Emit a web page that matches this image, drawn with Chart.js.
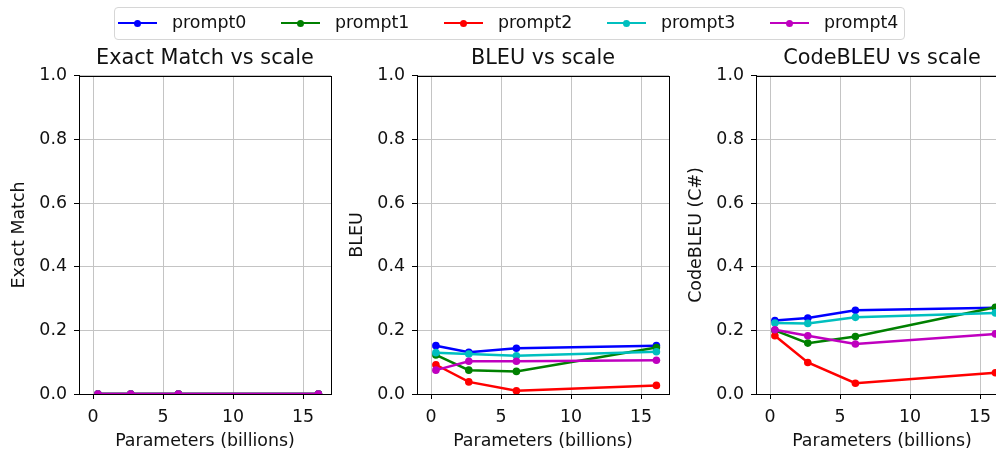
<!DOCTYPE html>
<html>
<head>
<meta charset="utf-8">
<script src="https://cdn.jsdelivr.net/npm/chart.js@4"></script>
<style>
  html, body { margin: 0; padding: 0; background: #fff; }
  #fig { position: relative; width: 996px; height: 450px; overflow: hidden; font-family: "DejaVu Sans", sans-serif; }
  #fig canvas { position: absolute; top: 0; }
  #legend { position: absolute; left: 114px; top: 7px; width: 789px; height: 31px; border: 1px solid #d6d6d6; border-radius: 4px; background: rgba(255,255,255,0.8); z-index: 5; }
  .item { position: absolute; top: 0; height: 31px; }
  .sample { position: absolute; top: 14px; width: 39px; height: 2px; }
  .sample i { position: absolute; left: 16px; top: -2.5px; width: 7px; height: 7px; border-radius: 50%; }
  .item span { position: absolute; left: 54px; top: 4px; font-size: 17.4px; line-height: 21px; color: #111; white-space: nowrap; }
</style>
</head>
<body>
<div id="fig">
  <div id="legend"></div>
  <canvas id="c0" width="408" height="452" style="left:1px"></canvas>
  <canvas id="c1" width="408" height="452" style="left:339px"></canvas>
  <canvas id="c2" width="408" height="452" style="left:678px"></canvas>
</div>
<script>
// ===== DATA =====
const params = [0.35, 2.7, 6.1, 16.1];   // model size, billions
const promptNames = ['prompt0', 'prompt1', 'prompt2', 'prompt3', 'prompt4'];
const promptColors = ['#0000ff', '#008000', '#ff0000', '#00bfbf', '#bf00bf'];

const exactMatch = [
  [0, 0, 0, 0],
  [0, 0, 0, 0],
  [0, 0, 0, 0],
  [0, 0, 0, 0],
  [0, 0, 0, 0]
];
const bleu = [
  [0.152, 0.131, 0.144, 0.152],
  [0.123, 0.075, 0.071, 0.146],
  [0.092, 0.038, 0.010, 0.027],
  [0.130, 0.126, 0.120, 0.133],
  [0.075, 0.103, 0.103, 0.106]
];
const codeBleu = [
  [0.231, 0.239, 0.263, 0.271],
  [0.200, 0.160, 0.181, 0.273],
  [0.183, 0.099, 0.034, 0.067],
  [0.223, 0.222, 0.241, 0.255],
  [0.202, 0.183, 0.157, 0.189]
];
const xTicks = [0, 5, 10, 15];
const yTicks = [0, 0.2, 0.4, 0.6, 0.8, 1.0];

const panels = [
  { id: 'c0', title: 'Exact Match vs scale', ylabel: 'Exact Match', data: exactMatch },
  { id: 'c1', title: 'BLEU vs scale', ylabel: 'BLEU', data: bleu },
  { id: 'c2', title: 'CodeBLEU vs scale', ylabel: 'CodeBLEU (C#)', data: codeBleu }
];

const FONT = "'DejaVu Sans', sans-serif";
const TXT = 17.4;

// ===== LEGEND =====
const legend = document.getElementById('legend');
promptNames.forEach((name, i) => {
  const it = document.createElement('div');
  it.className = 'item';
  it.style.left = (3 + i * 163) + 'px';
  it.innerHTML = `<div class="sample" style="background:${promptColors[i]}"><i style="background:${promptColors[i]}"></i></div><span>${name}</span>`;
  legend.appendChild(it);
});

// full box spines like matplotlib
const boxPlugin = {
  id: 'box',
  afterDatasetsDraw(chart) {
    const a = chart.chartArea, ctx = chart.ctx;
    ctx.save();
    ctx.strokeStyle = '#000';
    ctx.lineWidth = 1;
    ctx.strokeRect(Math.round(a.left) + 0.5, Math.round(a.top) + 0.5,
      Math.round(a.right) - Math.round(a.left), Math.round(a.bottom) - Math.round(a.top));
    ctx.restore();
  }
};

// ===== CHARTS =====
panels.forEach(p => {
  const datasets = promptNames.map((name, i) => ({
    label: name,
    data: params.map((x, k) => ({ x: x, y: p.data[i][k] })),
    borderColor: promptColors[i],
    backgroundColor: promptColors[i],
    borderWidth: 2.5,
    pointRadius: 3.8,
    pointBorderWidth: 0,
    pointHoverRadius: 3.8,
    tension: 0,
    clip: 0,
    order: promptNames.length - i
  }));

  new Chart(document.getElementById(p.id), {
    type: 'line',
    data: { datasets },
    options: {
      responsive: false,
      animation: false,
      events: [],
      layout: { padding: { top: 40, right: 0, bottom: 0, left: 0 } },
      plugins: {
        legend: { display: false },
        tooltip: { enabled: false },
        title: {
          display: true,
          text: p.title,
          color: '#111',
          font: { family: FONT, size: 20.8, weight: 'normal' },
          padding: { top: 6.5, bottom: 4.5 }
        }
      },
      scales: {
        x: {
          type: 'linear',
          min: -1.0,
          max: 17.0,
          afterBuildTicks: s => { s.ticks = xTicks.map(v => ({ value: v })); },
          afterFit: s => { s.height = 58; },
          grid: { color: '#c4c4c4', lineWidth: 1, tickColor: '#000', tickLength: 5 },
          border: { color: '#000', width: 1 },
          ticks: { color: '#111', font: { family: FONT, size: TXT }, padding: 8, maxRotation: 0 },
          title: { display: true, text: 'Parameters (billions)', color: '#111',
                   font: { family: FONT, size: TXT }, padding: { top: 0, bottom: 0 } }
        },
        y: {
          min: 0,
          max: 1,
          afterBuildTicks: s => { s.ticks = yTicks.map(v => ({ value: v })); },
          afterFit: s => { s.width = 78; },
          grid: { color: '#c4c4c4', lineWidth: 1, tickColor: '#000', tickLength: 5 },
          border: { color: '#000', width: 1 },
          ticks: { color: '#111', font: { family: FONT, size: TXT }, padding: 7,
                   callback: v => v.toFixed(1) },
          title: { display: true, text: p.ylabel, color: '#111',
                   font: { family: FONT, size: TXT }, padding: { top: 8.5, bottom: 0 } }
        },
        // empty right-hand spacer so the title centres over the plot area
        yr: {
          type: 'linear',
          position: 'right',
          display: true,
          afterFit: s => { s.width = 78; },
          grid: { display: false, drawTicks: false },
          border: { display: false },
          ticks: { display: false }
        }
      }
    },
    plugins: [boxPlugin]
  });
});
</script>
</body>
</html>
